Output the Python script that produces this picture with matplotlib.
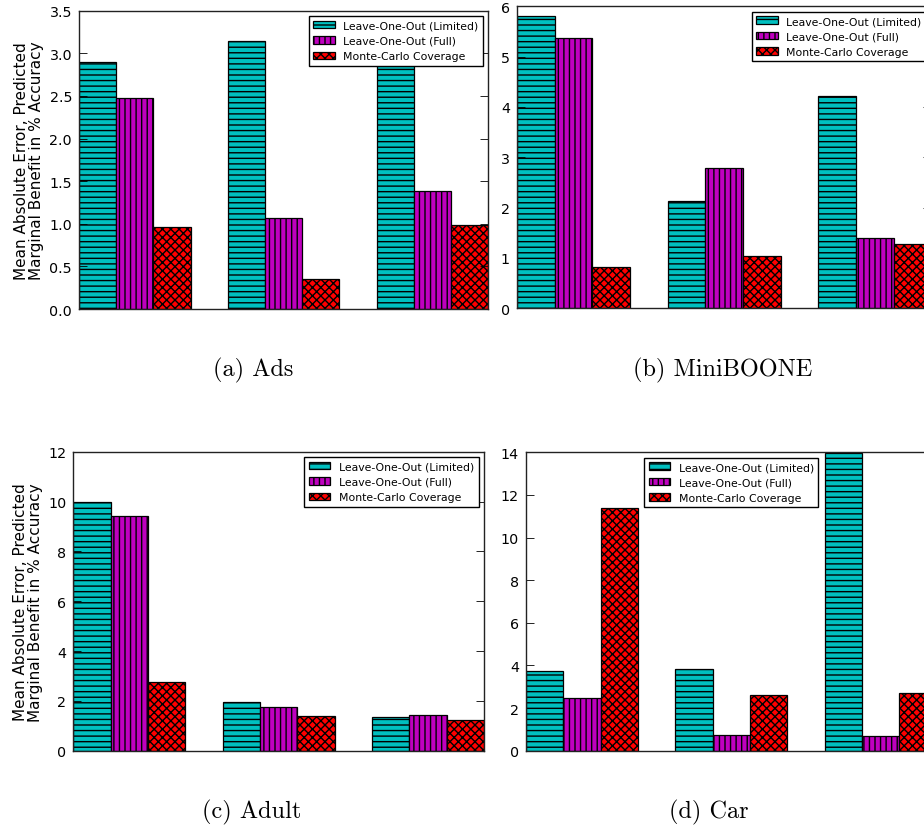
import matplotlib
matplotlib.use("Agg")
import matplotlib.pyplot as plt
import numpy as np

# ---- data ----
series_labels = ["Leave-One-Out (Limited)", "Leave-One-Out (Full)", "Monte-Carlo Coverage"]
series_colors = ["c", "m", "r"]
series_hatches = ["---", "|||", "xxxx"]

ads_limited = [2.90, 3.15, 2.95]
ads_full = [2.48, 1.07, 1.39]
ads_mc = [0.96, 0.35, 0.99]
ads_yticks = [0.0, 0.5, 1.0, 1.5, 2.0, 2.5, 3.0, 3.5]

mini_limited = [5.80, 2.13, 4.22]
mini_full = [5.38, 2.78, 1.39]
mini_mc = [0.83, 1.04, 1.27]
mini_yticks = [0, 1, 2, 3, 4, 5, 6]

adult_limited = [10.0, 1.94, 1.34]
adult_full = [9.41, 1.75, 1.42]
adult_mc = [2.76, 1.38, 1.23]
adult_yticks = [0, 2, 4, 6, 8, 10, 12]

car_limited = [3.73, 3.82, 13.98]
car_full = [2.49, 0.74, 0.69]
car_mc = [11.39, 2.61, 2.71]
car_yticks = [0, 2, 4, 6, 8, 10, 12, 14]

captions = ["(a) Ads", "(b) MiniBOONE", "(c) Adult", "(d) Car"]
ylabel_text = "Mean Absolute Error, Predicted\nMarginal Benefit in % Accuracy"

W, H = 924, 828
fig = plt.figure(figsize=(W / 100, H / 100), dpi=100)
fig.patch.set_facecolor("white")


def axes_px(left, right, top, bottom):
    return fig.add_axes([left / W, 1 - bottom / H, (right - left) / W, (bottom - top) / H])


def draw(ax, values, yticks, legend_loc, ylabel=False):
    ind = np.arange(len(values[0]))
    width = 0.25
    for i, vals in enumerate(values):
        ax.bar(ind + i * width, vals, width, align="edge", color=series_colors[i],
               hatch=series_hatches[i], edgecolor="black", linewidth=0.9,
               label=series_labels[i])
    ax.set_xlim(0, len(ind) - 1 + 3 * width)
    ax.set_ylim(yticks[0], yticks[-1])
    ax.set_yticks(yticks)
    ax.set_xticks([])
    ax.tick_params(axis="y", direction="in", length=5.6, width=0.6, right=True,
                   labelsize=10.3, pad=5, colors="black")
    for s in ax.spines.values():
        s.set_linewidth(1.0)
        s.set_color("#222222")
    leg = ax.legend(loc=legend_loc, fontsize=7.8, fancybox=False, framealpha=1,
                    edgecolor="black", borderpad=0.4, labelspacing=0.5,
                    handlelength=2.0, handleheight=0.7, handletextpad=0.8,
                    borderaxespad=0.5)
    leg.get_frame().set_linewidth(1.0)
    if ylabel:
        ax.set_ylabel(ylabel_text, fontsize=11, linespacing=0.95, labelpad=4)


ax1 = axes_px(79, 488.2, 11.7, 310)
draw(ax1, [ads_limited, ads_full, ads_mc], ads_yticks, "upper right", ylabel=True)

ax2 = axes_px(517, 931.4, 7.3, 309.3)
draw(ax2, [mini_limited, mini_full, mini_mc], mini_yticks, "upper right")

ax3 = axes_px(73.3, 484, 452.7, 751.7)
draw(ax3, [adult_limited, adult_full, adult_mc], adult_yticks, "upper right", ylabel=True)

ax4 = axes_px(526, 936.6, 453.3, 751.7)
draw(ax4, [car_limited, car_full, car_mc], car_yticks, "upper center")

cap_pos = [(253, 370), (723, 370), (252, 812), (709, 812)]
for txt, (x, y) in zip(captions, cap_pos):
    fig.text(x / W, 1 - y / H, txt, fontsize=17.5, family=["cmr10", "DejaVu Serif"],
             ha="center", va="center")

fig.savefig("out.png", dpi=100, facecolor="white")
